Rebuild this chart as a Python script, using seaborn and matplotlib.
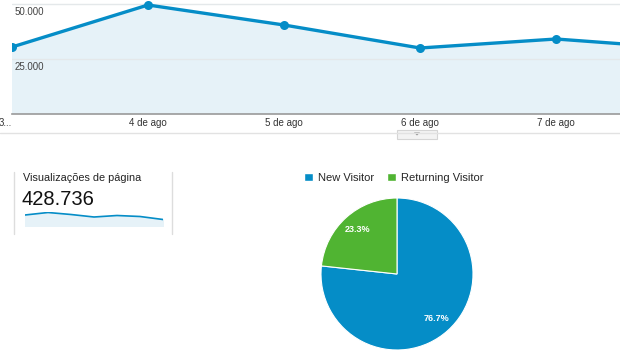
import matplotlib
matplotlib.use("Agg")
import matplotlib.pyplot as plt
from matplotlib.patches import Rectangle, Polygon
from matplotlib.lines import Line2D
import matplotlib.transforms as mtransforms
import seaborn as sns
import pandas as pd

sns.set_theme(style="white")
plt.rcParams["font.family"] = ["Liberation Sans", "DejaVu Sans"]

# Daily page views (main area chart)
day_labels = ["3...", "4 de ago", "5 de ago", "6 de ago", "7 de ago", "8 de ago"]
day_views = [30455, 49545, 40455, 30000, 34091, 29545]
y_ticks = [25000, 50000]
y_tick_labels = ["25.000", "50.000"]

# Sparkline in the summary box
spark_views = [66000, 81000, 69000, 54000, 63000, 57000, 39000]
summary_title = "Visualizações de página"
summary_total = "428.736"

# Visitor split
visitor_types = ["New Visitor", "Returning Visitor"]
visitor_share = [76.7, 23.3]
visitor_colors = ["#058dc7", "#50b432"]

LINE = "#058dc7"
FILL = "#e6f2f8"

W, H = 620, 350
fig = plt.figure(figsize=(W / 100, H / 100), dpi=100)
fig.patch.set_facecolor("white")


def box(x0, y0, x1, y1):
    """Figure-fraction rect from pixel coords (top-left origin)."""
    return [x0 / W, 1 - y1 / H, (x1 - x0) / W, (y1 - y0) / H]


# ---- main area chart ----
ax = fig.add_axes(box(12, 0, 620, 114))
df = pd.DataFrame({"day": range(len(day_views)), "views": day_views})
ax.fill_between(df["day"], df["views"], 0, color=FILL, zorder=1)
for t in y_ticks:
    ax.axhline(t, color="#e4e8ea", lw=1, zorder=1.5)
sns.lineplot(data=df, x="day", y="views", ax=ax, color=LINE, lw=2.4,
             marker="o", markersize=6.5, markeredgewidth=0, zorder=3)
for s in ["top", "right", "left"]:
    ax.spines[s].set_visible(False)
ax.spines["bottom"].set_color("#9a9a9a")
ax.spines["bottom"].set_linewidth(1.2)
ax.set_xlabel("")
ax.set_ylabel("")
ax.set_yticks([])
ax.set_xticks(range(len(day_labels)))
ax.set_xticklabels(day_labels, fontsize=7, color="#333333")
ax.tick_params(axis="x", length=0, pad=3)
ax.get_xticklabels()[0].set_horizontalalignment("right")
# one day spans 136 px; the view ends partway into the last day
ax.set_xlim(0, (620 - 12) / 136)
ax.set_ylim(0, 114 / 55 * 25000)
trans = mtransforms.blended_transform_factory(ax.transAxes, ax.transData)
for t, lab in zip(y_ticks, y_tick_labels):
    ax.text(3 / 608, t - 1500, lab, transform=trans, fontsize=7,
            color="#444444", va="top", ha="left", zorder=4)

# separator under the axis with a small toggle button
fig.add_artist(Line2D([0, 1], [1 - 133 / H] * 2, color="#e2e2e2", lw=1))
fig.add_artist(Rectangle((397 / W, 1 - 139 / H), 40 / W, 9.5 / H,
                         facecolor="#f3f3f3", edgecolor="#d5d5d5", lw=0.8))
fig.add_artist(Polygon([[414 / W, 1 - 132.5 / H], [420 / W, 1 - 132.5 / H],
                        [417 / W, 1 - 135.5 / H]], closed=True,
                       facecolor="#888888", edgecolor="none"))

# ---- summary box ----
fig.add_artist(Line2D([14 / W] * 2, [1 - 172 / H, 1 - 234 / H], color="#dddddd", lw=1))
fig.add_artist(Line2D([172 / W] * 2, [1 - 172 / H, 1 - 234 / H], color="#dddddd", lw=1))
fig.text(23 / W, 1 - 178 / H, summary_title, fontsize=7.8, color="#222222", va="center")
fig.text(22 / W, 1 - 199 / H, summary_total, fontsize=14.5, color="#111111", va="center")

sax = fig.add_axes(box(25, 212, 163, 226))
sdf = pd.DataFrame({"i": range(len(spark_views)), "v": spark_views})
sax.fill_between(sdf["i"], sdf["v"], 0, color=FILL)
sns.lineplot(data=sdf, x="i", y="v", ax=sax, color=LINE, lw=1.2)
sax.set_xlim(0, len(spark_views) - 1)
sax.set_ylim(0, 84000)
sax.axis("off")

# ---- visitor pie ----
pax = fig.add_axes(box(321, 198, 473, 350))
wedges, _, autotexts = pax.pie(
    visitor_share, colors=visitor_colors, startangle=90, counterclock=False,
    autopct="%.1f%%", pctdistance=0.78,
    wedgeprops=dict(edgecolor="white", linewidth=0.8),
    textprops=dict(color="white", fontsize=6.5, fontweight="bold"))
pax.set_xlim(-1.0, 1.0)
pax.set_ylim(-1.0, 1.0)
pax.set_aspect("equal")

handles = [Rectangle((0, 0), 1, 1, facecolor=c) for c in visitor_colors]
fig.legend(handles, visitor_types, loc="center left",
           bbox_to_anchor=(300 / W, 1 - 178 / H), ncol=2, frameon=False,
           fontsize=8, handlelength=0.8, handleheight=0.8, handletextpad=0.4,
           columnspacing=1.2, borderaxespad=0)

fig.savefig("out.png", dpi=100, facecolor="white")
